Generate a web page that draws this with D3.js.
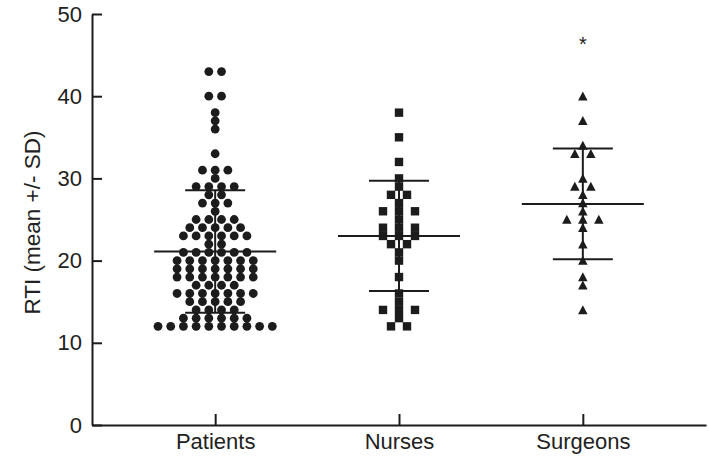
<!DOCTYPE html>
<html>
<head>
<meta charset="utf-8">
<script src="https://cdn.jsdelivr.net/npm/d3@7"></script>
<style>
  body { margin: 0; background: #fff; }
  svg { display: block; }
  text { font-family: "Liberation Sans", Arial, Helvetica, sans-serif; fill: #222; }
</style>
</head>
<body>
<svg id="chart" width="709" height="459"></svg>
<script>
// Groups along the x axis
const groups = ["Patients", "Nurses", "Surgeons"];

// Individual RTI scores per group
const patients = [
  43, 43, 40, 40, 38, 37, 36, 33, 31, 31, 31, 30,
  29, 29, 29, 29, 28, 28, 27, 27, 27, 26,
  25, 25, 25, 25, 24, 24, 24, 24, 24,
  23, 23, 23, 23, 23, 23, 22, 22,
  21, 21, 21, 21, 21, 21,
  20, 20, 20, 20, 20, 20, 20,
  19, 19, 19, 19, 19, 19, 19,
  18, 18, 18, 18, 18, 18, 18,
  17, 17, 17, 17,
  16, 16, 16, 16, 16, 16, 16,
  15, 15, 15, 15, 15,
  14, 14, 14, 14,
  13, 13, 13, 13, 13, 13,
  12, 12, 12, 12, 12, 12, 12, 12, 12, 12
];
const nurses = [
  38, 35, 32, 30, 29, 28, 28, 27, 26, 26, 26, 25,
  24, 24, 24, 23, 23, 23, 22, 22, 21, 20, 18,
  16, 15, 14, 14, 14, 13, 12, 12
];
const surgeons = [
  40, 37, 34, 33, 33, 30, 29, 29, 28, 27, 26,
  25, 25, 25, 24, 22, 20, 18, 17, 14
];

// Group summaries: mean and standard deviation
const means = [21.1, 23.0, 26.9];
const sds = [7.45, 6.7, 6.75];

// Axis ticks and text
const yTicks = [0, 10, 20, 30, 40, 50];
const yTitle = "RTI (mean +/- SD)";
const sigMark = "*";
const sigGroup = "Surgeons";

const seriesValues = [patients, nurses, surgeons];
const markerKind = ["circle", "square", "triangle"];
const rowSpacing = [12.7, 16, 16];

const svg = d3.select("#chart");
const ink = "#1c1c1c";

const x = d3.scalePoint().domain(groups).range([92, 706]).padding(0.67);
const y = d3.scaleLinear().domain([0, 50]).range([425, 14]);

// Axes (ticks point inward)
const yAxis = svg.append("g")
  .attr("transform", `translate(${x.range()[0]},0)`)
  .call(d3.axisLeft(y).tickValues(yTicks).tickSizeInner(-10).tickSizeOuter(0).tickPadding(10));
const xAxis = svg.append("g")
  .attr("transform", `translate(0,${y(0)})`)
  .call(d3.axisBottom(x).tickSizeInner(-11).tickSizeOuter(0).tickPadding(8));

[yAxis, xAxis].forEach(g => {
  g.select(".domain").attr("stroke", ink).attr("stroke-width", 2);
  g.selectAll(".tick line").attr("stroke", ink).attr("stroke-width", 2);
  g.selectAll(".tick text").attr("font-size", 22).attr("fill", "#222")
    .attr("font-family", "'Liberation Sans', Arial, sans-serif");
});

svg.append("text")
  .attr("transform", `translate(40,${(y(0) + y(50)) / 2 + 3}) rotate(-90)`)
  .attr("text-anchor", "middle")
  .attr("font-size", 22.5)
  .text(yTitle);

// Spread each group's points horizontally within rows of equal value
function layout(values, cx, spacing) {
  const rows = d3.group(values, v => v);
  const pts = [];
  for (const [v, arr] of rows) {
    const n = arr.length;
    arr.forEach((_, i) => pts.push({ v, px: cx + (i - (n - 1) / 2) * spacing }));
  }
  return pts;
}

function triPath(w, h) {
  return `M0,${-h / 2 - 0.5}L${w / 2},${h / 2}L${-w / 2},${h / 2}Z`;
}

seriesValues.forEach((vals, gi) => {
  const cx = x(groups[gi]);
  const pts = layout(vals, cx, rowSpacing[gi]);
  const g = svg.append("g").attr("fill", ink);
  if (markerKind[gi] === "circle") {
    g.selectAll("circle").data(pts).join("circle")
      .attr("cx", d => d.px).attr("cy", d => y(d.v)).attr("r", 4.4);
  } else if (markerKind[gi] === "square") {
    const s = 8.4;
    g.selectAll("rect").data(pts).join("rect")
      .attr("x", d => d.px - s / 2).attr("y", d => y(d.v) - s / 2)
      .attr("width", s).attr("height", s);
  } else {
    g.selectAll("path").data(pts).join("path")
      .attr("transform", d => `translate(${d.px},${y(d.v)})`)
      .attr("d", triPath(9.5, 8.5));
  }

  // Mean and SD bars
  const m = means[gi], sd = sds[gi];
  const lines = svg.append("g").attr("stroke", ink).attr("stroke-width", 2);
  lines.append("line").attr("x1", cx).attr("x2", cx)
    .attr("y1", y(m + sd)).attr("y2", y(m - sd));
  lines.append("line").attr("x1", cx - 61).attr("x2", cx + 61)
    .attr("y1", y(m)).attr("y2", y(m));
  [m + sd, m - sd].forEach(v => {
    lines.append("line").attr("x1", cx - 30).attr("x2", cx + 30)
      .attr("y1", y(v)).attr("y2", y(v));
  });
});

// Significance marker above the surgeons group
svg.append("text")
  .attr("x", x(sigGroup)).attr("y", 51)
  .attr("text-anchor", "middle")
  .attr("font-size", 20)
  .text(sigMark);
</script>
</body>
</html>
